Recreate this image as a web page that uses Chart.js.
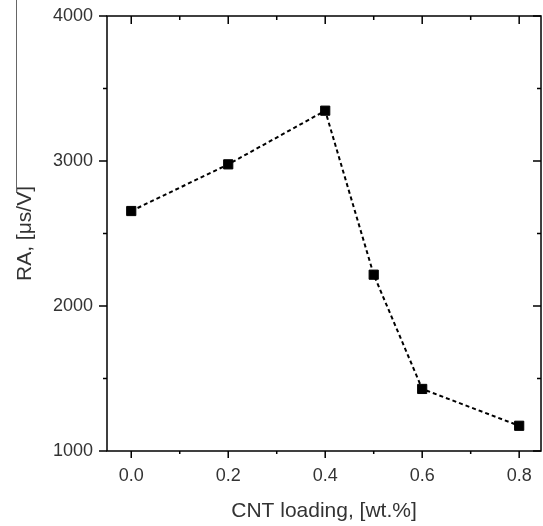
<!DOCTYPE html>
<html>
<head>
<meta charset="utf-8">
<script src="https://cdn.jsdelivr.net/npm/chart.js@4.4.1/dist/chart.umd.min.js"></script>
<style>
    body { margin: 0; background: #fff; }
    canvas { display: block; }
</style>
</head>
<body>
<canvas id="raChart" width="543" height="526"></canvas>
<script>
// dữ liệu
const loadings = [0.0, 0.2, 0.4, 0.5, 0.6, 0.8];
const raValues = [2655, 2977, 3347, 2216, 1428, 1174];

// vạch chia
const xMajor = [0.0, 0.2, 0.4, 0.6, 0.8];
const xMinor = [0.1, 0.3, 0.5, 0.7];
const yMajor = [1000, 2000, 3000, 4000];
const yMinor = [1500, 2500, 3500];

const textColor = '#333';
const fontFamily = '"Liberation Sans", Arial, sans-serif';

// khung + vạch chia trong/ngoài (Chart.js không có minor ticks)
const framePlugin = {
    id: 'frame',
    afterDraw(chart) {
        const ctx = chart.ctx;
        const a = chart.chartArea;
        const xs = chart.scales.x;
        const ys = chart.scales.y;

        ctx.save();
        ctx.strokeStyle = '#000';
        ctx.lineWidth = 1.5;
        ctx.strokeRect(a.left, a.top, a.right - a.left, a.bottom - a.top);

        ctx.beginPath();
        const xTick = (v, len) => {
            const px = xs.getPixelForValue(v);
            ctx.moveTo(px, a.bottom); ctx.lineTo(px, a.bottom + len - 1); // ra ngoài
            ctx.moveTo(px, a.top); ctx.lineTo(px, a.top + len);          // vào trong
        };
        const yTick = (v, len) => {
            const py = ys.getPixelForValue(v);
            ctx.moveTo(a.left, py); ctx.lineTo(a.left - len, py);   // ra ngoài
            ctx.moveTo(a.right, py); ctx.lineTo(a.right - len, py); // vào trong
        };
        xMajor.forEach(v => xTick(v, 8));
        xMinor.forEach(v => xTick(v, 4));
        yMajor.forEach(v => yTick(v, 8));
        yMinor.forEach(v => yTick(v, 4));
        ctx.stroke();

        // đường xám mảnh phía trên nhãn trục y (có trong ảnh gốc)
        ctx.strokeStyle = '#666';
        ctx.lineWidth = 1;
        ctx.beginPath();
        ctx.moveTo(16.5, 0);
        ctx.lineTo(16.5, 193);
        ctx.stroke();
        ctx.restore();
    }
};

new Chart(document.getElementById('raChart'), {
    type: 'line',
    data: {
        datasets: [{
            data: loadings.map((x, i) => ({ x: x, y: raValues[i] })),
            borderColor: '#000',
            borderWidth: 2,
            borderDash: [4, 3],
            backgroundColor: '#000',
            pointStyle: 'rect',
            pointRadius: 6.5,
            pointBorderWidth: 1,
            pointBorderColor: '#000',
            pointBackgroundColor: '#000',
            tension: 0,
            fill: false
        }]
    },
    options: {
        responsive: false,
        animation: false,
        devicePixelRatio: 1,
        // tắt autoPadding để điểm không đẩy khung vào trong
        layout: { autoPadding: false, padding: { top: 16, right: 2, left: 0, bottom: 0 } },
        plugins: {
            legend: { display: false },
            tooltip: { enabled: false }
        },
        scales: {
            x: {
                type: 'linear',
                min: -0.05,
                max: 0.845,
                afterBuildTicks: function (scale) {
                    scale.ticks = xMajor.map(v => ({ value: v }));
                },
                afterFit: function (scale) {
                    scale.height = 75;
                    scale.paddingLeft = 0;
                    scale.paddingRight = 0;
                },
                grid: { display: false, drawTicks: false },
                border: { display: false },
                ticks: {
                    padding: 14,
                    maxRotation: 0,
                    color: textColor,
                    font: { family: fontFamily, size: 18 },
                    callback: v => v.toFixed(1)
                },
                title: {
                    display: true,
                    text: 'CNT loading, [wt.%]',
                    color: textColor,
                    font: { family: fontFamily, size: 21 },
                    padding: { top: 2, bottom: 2 }
                }
            },
            y: {
                min: 1000,
                max: 4000,
                afterBuildTicks: function (scale) {
                    scale.ticks = yMajor.map(v => ({ value: v }));
                },
                afterFit: function (scale) {
                    scale.width = 107;
                    scale.paddingTop = 0;
                    scale.paddingBottom = 0;
                },
                grid: { display: false, drawTicks: false },
                border: { display: false },
                ticks: {
                    padding: 14,
                    color: textColor,
                    font: { family: fontFamily, size: 18 },
                    callback: v => String(v)
                },
                title: {
                    display: true,
                    text: 'RA, [μs/V]',
                    color: textColor,
                    font: { family: fontFamily, size: 21 },
                    padding: { top: 13, bottom: 13 }
                }
            }
        }
    },
    plugins: [framePlugin]
});
</script>
</body>
</html>
